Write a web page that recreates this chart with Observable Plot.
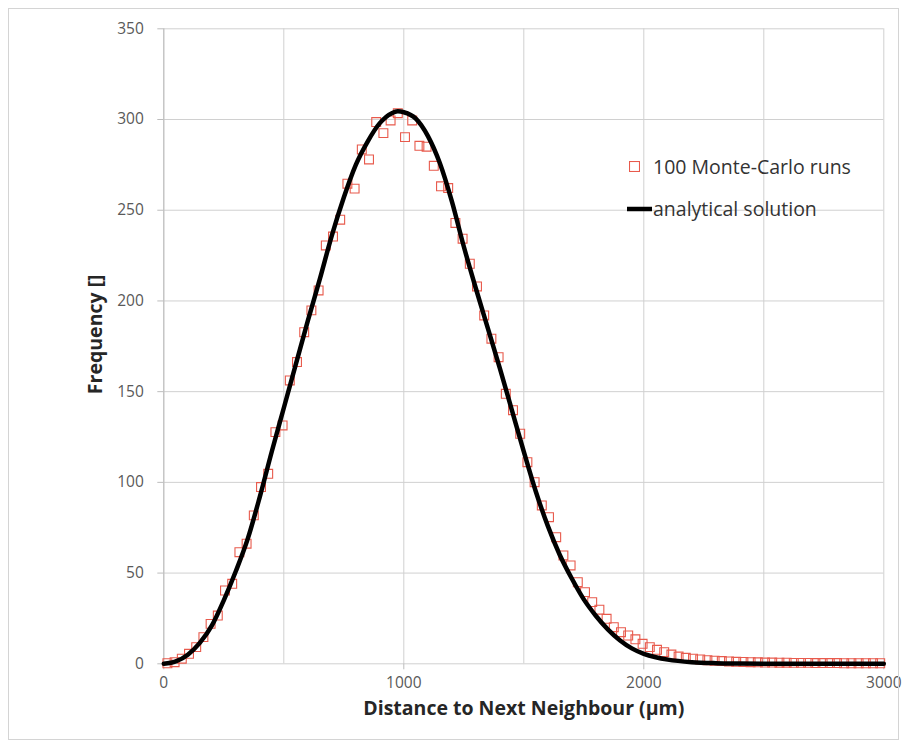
<!DOCTYPE html>
<html><head><meta charset="utf-8">
<script src="https://cdn.jsdelivr.net/npm/d3@7"></script>
<script src="https://cdn.jsdelivr.net/npm/@observablehq/plot@0.6"></script>
<style>
body{margin:0;background:#fff;font-family:"Open Sans",Lato,sans-serif}
#wrap{position:relative;width:907px;height:747px;overflow:hidden}
#frame{position:absolute;left:8px;top:8px;width:891px;height:732px;border:1px solid #d4d4d4;box-sizing:border-box;pointer-events:none}
.leg{position:absolute;font-size:19.5px;color:#333;line-height:1;white-space:nowrap;display:flex;align-items:center}
.leg svg{display:block}
</style></head><body>
<div id="wrap"><div id="frame"></div></div>
<script>
// Monte-Carlo histogram: bin centres (µm) and frequencies
const binCenters = [15,45,75,105,135,165,195,225,255,285,315,345,375,405,435,465,495,525,555,585,
 615,645,675,705,735,765,795,825,855,885,915,945,975,1005,1035,1065,1095,1125,1155,1185,
 1215,1245,1275,1305,1335,1365,1395,1425,1455,1485,1515,1545,1575,1605,1635,1665,1695,1725,1755,1785,
 1815,1845,1875,1905,1935,1965,1995,2025,2055,2085,2115,2145,2175,2205,2235,2265,2295,2325,2355,2385,
 2415,2445,2475,2505,2535,2565,2595,2625,2655,2685,2715,2745,2775,2805,2835,2865,2895,2925,2955,2985];
const mcFreq = [0.3,0.9,2.8,5.5,9.2,14.7,22,26.6,40.4,44.1,61.5,66.2,81.8,97.4,104.7,127.7,131.4,156.2,166.3,182.8,
 194.8,205.8,230.6,235.5,244.8,264.6,261.9,283.5,278,298.6,292.5,299.5,303.5,290.3,299.5,285.5,285,274.5,263.2,262.2,
 243,234.3,220.5,208,192,179.2,169,148.8,139.8,126.8,111.1,100.1,87.3,80.8,69.8,59.7,54.2,45,39.5,34,
 29.8,24.8,20.2,17.4,15.6,13.5,11,9.2,7.7,6.4,5.1,4.0,3.3,2.8,2.4,2.0,1.7,1.5,1.3,1.1,
 1.0,0.9,0.8,0.7,0.7,0.6,0.6,0.5,0.5,0.5,0.4,0.4,0.4,0.4,0.3,0.3,0.3,0.3,0.3,0.3];

// Analytical solution
const curveX = [0,50,100,150,200,250,300,350,400,450,500,550,600,650,700,750,800,850,900,950,975,1000,1050,1100,1150,1200,1250,1300,1350,1400,1450,1500,1550,1600,1650,1700,1750,1800,1850,1900,1950,2000,2050,2100,2200,2300,2400,2500,2600,2800,3000];
const curveY = [0,1.3,5,11.5,21,35,51,69,92,117,141,165,189,212,236,257,275,288,298,303.5,304.5,304,300.5,291,276,255,230,207,185,163,140,117,95,76,60,47,35.5,26.5,19,13,8.5,5.5,3.6,2.3,0.9,0.35,0.15,0.05,0,0,0];

const xGrid = [0,500,1000,1500,2000,2500,3000];
const xTicks = [0,1000,2000,3000];
const yTicks = [0,50,100,150,200,250,300,350];

const legendItems = ["100 Monte-Carlo runs","analytical solution"];
const xLabel = "Distance to Next Neighbour (µm)";
const yLabel = "Frequency []";

const mc = binCenters.map((x,i)=>({x, y: mcFreq[i]}));
const curve = curveX.map((x,i)=>({x, y: curveY[i]}));

const chart = Plot.plot({
  width: 907, height: 747,
  marginLeft: 163.3, marginRight: 23.7, marginTop: 28.3, marginBottom: 83.7,
  x: {domain: [0,3000]},
  y: {domain: [0,350]},
  style: {fontFamily: "'Open Sans', Lato, sans-serif", fontSize: "15.5px", color: "#595959", background: "transparent"},
  marks: [
    Plot.gridX(xGrid, {stroke: "#d0d0d0", strokeOpacity: 1}),
    Plot.gridY(yTicks, {stroke: "#d0d0d0", strokeOpacity: 1}),
    Plot.ruleX([0], {stroke: "#bdbdbd"}),
    Plot.axisY(yTicks, {tickSize: 6, tickPadding: 14, label: null, stroke: "#bdbdbd", strokeOpacity: 1, fill: "#595959", tickFormat: d3.format("d")}),
    Plot.axisX(xTicks, {tickSize: 6, tickPadding: 7, label: null, stroke: "#bdbdbd", strokeOpacity: 1, fill: "#595959", tickFormat: d3.format("d")}),
    Plot.dot(mc, {x: "x", y: "y", symbol: "square", r: 5, stroke: "#e85a4c", strokeWidth: 1.1, fill: "none"}),
    Plot.line(curve, {x: "x", y: "y", stroke: "#000", strokeWidth: 4.5, curve: "monotone-x"}),
    Plot.text([yLabel], {frameAnchor: "left", textAnchor: "middle", lineAnchor: "middle", rotate: -90, dx: -68, dy: -12, fontWeight: "bold", fontSize: 19.5, fill: "#262626"}),
    Plot.text([xLabel], {frameAnchor: "bottom", textAnchor: "middle", lineAnchor: "middle", dy: 45, fontWeight: "bold", fontSize: 19.5, fill: "#262626"})
  ]
});
const wrap = document.getElementById("wrap");
chart.style.position = "absolute"; chart.style.left = "0"; chart.style.top = "0";
wrap.insertBefore(chart, wrap.firstChild);

// legend
const l1 = document.createElement("div");
l1.className = "leg"; l1.style.left = "629px"; l1.style.top = "157px";
l1.innerHTML = '<svg width="11" height="11" style="margin-right:13px"><rect x="0.5" y="0.5" width="10" height="10" fill="none" stroke="#e85a4c" stroke-width="1.1"/></svg><span>' + legendItems[0] + '</span>';
const l2 = document.createElement("div");
l2.className = "leg"; l2.style.left = "627px"; l2.style.top = "199px";
l2.innerHTML = '<svg width="25" height="6" style="margin-right:1px"><line x1="0" y1="3" x2="25" y2="3" stroke="#000" stroke-width="4.5"/></svg><span>' + legendItems[1] + '</span>';
wrap.appendChild(l1); wrap.appendChild(l2);
</script>
</body></html>
